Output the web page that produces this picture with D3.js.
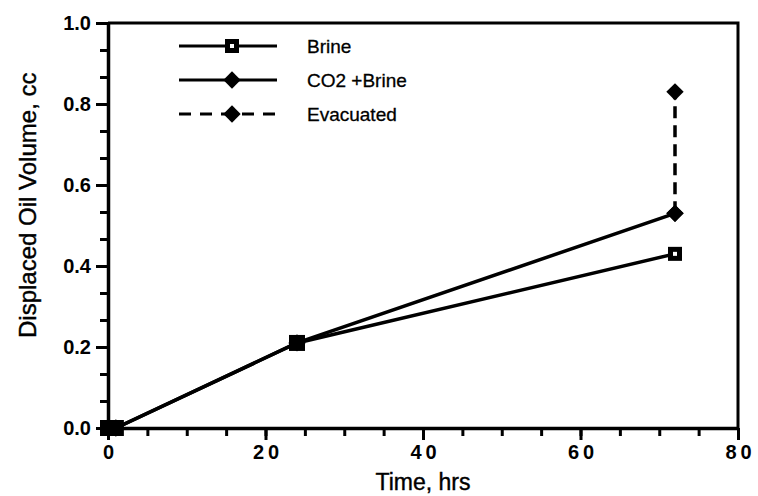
<!DOCTYPE html>
<html>
<head>
<meta charset="utf-8">
<script src="https://cdn.jsdelivr.net/npm/d3@7"></script>
<style>
  body { margin: 0; background: #fff; }
  text { font-family: "Liberation Sans", Arial, sans-serif; fill: #000; }
</style>
</head>
<body>
<div id="chart"></div>
<script>
// data
const brineTime = [0, 1, 24, 72];
const brineVolume = [0, 0, 0.21, 0.43];
const co2Time = [0, 1, 24, 72];
const co2Volume = [0, 0, 0.21, 0.53];
const evacTime = [72, 72];
const evacVolume = [0.53, 0.83];
const xTicks = [0, 20, 40, 60, 80];
const yTicks = [0, 0.2, 0.4, 0.6, 0.8, 1.0];
const legendNames = ["Brine", "CO2 +Brine", "Evacuated"];

const width = 758;
const height = 496;
const margin = { top: 23, left: 108, bottom: 68, right: 20 };

const svg = d3.select("#chart").append("svg")
  .attr("width", width)
  .attr("height", height);

const x = d3.scaleLinear().domain([0, 80]).range([margin.left, 738]);
const y = d3.scaleLinear().domain([0, 1]).range([height - margin.bottom, margin.top]);

// frame (top and right sides)
svg.append("path")
  .attr("d", "M" + x(0) + "," + y(1) + "H" + x(80) + "V" + y(0))
  .attr("fill", "none").attr("stroke", "#000").attr("stroke-width", 3);

// minor ticks
const xMinor = d3.range(0, 80.01, 5);
const yMinor = d3.range(0, 15.5, 1).map(function(i) { return i / 15; });

svg.append("g")
  .attr("transform", "translate(0," + y(0) + ")")
  .call(d3.axisBottom(x).tickValues(xMinor).tickSize(8).tickFormat(""))
  .call(function(g) { g.select(".domain").remove(); })
  .selectAll("line").attr("stroke", "#000").attr("stroke-width", 3);

svg.append("g")
  .attr("transform", "translate(" + x(0) + ",0)")
  .call(d3.axisLeft(y).tickValues(yMinor).tickSize(8).tickFormat(""))
  .call(function(g) { g.select(".domain").remove(); })
  .selectAll("line").attr("stroke", "#000").attr("stroke-width", 3);

// major axes
const xAxis = svg.append("g")
  .attr("transform", "translate(0," + y(0) + ")")
  .call(d3.axisBottom(x).tickValues(xTicks).tickSize(12).tickSizeOuter(0).tickPadding(5));
const yAxis = svg.append("g")
  .attr("transform", "translate(" + x(0) + ",0)")
  .call(d3.axisLeft(y).tickValues(yTicks).tickSize(12).tickSizeOuter(0).tickPadding(5)
    .tickFormat(d3.format(".1f")));

[xAxis, yAxis].forEach(function(g) {
  g.select(".domain").attr("stroke", "#000").attr("stroke-width", 3.5);
  g.selectAll(".tick line").attr("stroke", "#000").attr("stroke-width", 3);
  g.selectAll(".tick text")
    .attr("font-size", 20).attr("font-weight", "bold")
    .style("font-family", "'Liberation Sans', Arial, sans-serif").attr("fill", "#000");
});
xAxis.selectAll(".tick text").attr("letter-spacing", 4).attr("dx", 2);

// axis titles
svg.append("text")
  .attr("x", x(40)).attr("y", 490)
  .attr("text-anchor", "middle").attr("font-size", 23)
  .attr("stroke", "#000").attr("stroke-width", 0.4)
  .text("Time, hrs");
svg.append("text")
  .attr("transform", "translate(36," + y(0.55) + ") rotate(-90)")
  .attr("text-anchor", "middle").attr("font-size", 24)
  .attr("stroke", "#000").attr("stroke-width", 0.4)
  .text("Displaced Oil Volume, cc");

const line = d3.line()
  .x(function(d) { return x(d[0]); })
  .y(function(d) { return y(d[1]); });

function pairs(xs, ys) {
  return xs.map(function(v, i) { return [v, ys[i]]; });
}

const brine = pairs(brineTime, brineVolume);
const co2 = pairs(co2Time, co2Volume);
const evac = pairs(evacTime, evacVolume);

svg.append("path").datum(evac).attr("d", line)
  .attr("fill", "none").attr("stroke", "#000").attr("stroke-width", 3.5)
  .attr("stroke-dasharray", "12,7");
svg.append("path").datum(brine).attr("d", line)
  .attr("fill", "none").attr("stroke", "#000").attr("stroke-width", 3.5);
svg.append("path").datum(co2).attr("d", line)
  .attr("fill", "none").attr("stroke", "#000").attr("stroke-width", 3.5);

const diamond = d3.symbol().type(d3.symbolSquare).size(150);

function drawSquare(cx, cy) {
  svg.append("rect").attr("x", cx - 7).attr("y", cy - 7)
    .attr("width", 14).attr("height", 14).attr("fill", "#000");
  svg.append("rect").attr("x", cx - 2).attr("y", cy - 2)
    .attr("width", 4).attr("height", 4).attr("fill", "#fff");
}
function drawDiamond(cx, cy) {
  svg.append("path").attr("d", diamond)
    .attr("transform", "translate(" + cx + "," + cy + ") rotate(45)")
    .attr("fill", "#000");
}

co2.forEach(function(d) { drawDiamond(x(d[0]), y(d[1])); });
evac.forEach(function(d) { drawDiamond(x(d[0]), y(d[1])); });
brine.forEach(function(d) {
  if (d[1] > 0.3) drawSquare(x(d[0]), y(d[1]));
  else svg.append("rect").attr("x", x(d[0]) - 8).attr("y", y(d[1]) - 8)
    .attr("width", 16).attr("height", 16).attr("fill", "#000");
});

// legend
const legendY = [46, 80, 114];
legendNames.forEach(function(name, i) {
  const ly = legendY[i];
  svg.append("line")
    .attr("x1", 179).attr("x2", 277).attr("y1", ly).attr("y2", ly)
    .attr("stroke", "#000").attr("stroke-width", 3)
    .attr("stroke-dasharray", i == 2 ? "12,9" : null);
  if (i == 0) drawSquare(232, ly);
  else drawDiamond(232, ly);
  svg.append("text")
    .attr("x", 307).attr("y", ly + 7)
    .attr("font-size", 19)
    .attr("stroke", "#000").attr("stroke-width", 0.3)
    .text(name);
});
</script>
</body>
</html>
